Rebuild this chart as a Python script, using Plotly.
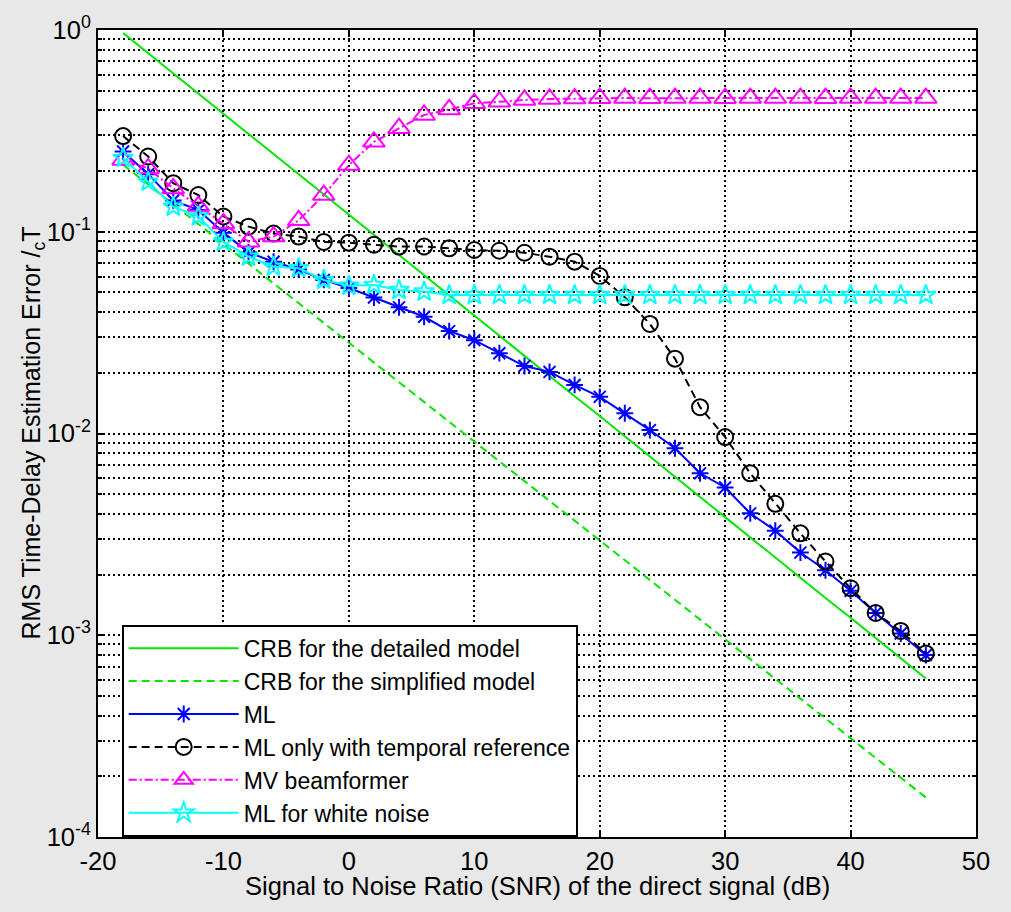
import plotly.graph_objects as go

snr = [-18, -16, -14, -12, -10, -8, -6, -4, -2, 0, 2, 4, 6, 8, 10, 12, 14, 16,
       18, 20, 22, 24, 26, 28, 30, 32, 34, 36, 38, 40, 42, 44, 46]

crb_detailed = [0.966, 0.767, 0.610, 0.484, 0.385, 0.305, 0.243, 0.193, 0.153, 0.122,
                0.0966, 0.0767, 0.0610, 0.0484, 0.0385, 0.0305, 0.0243, 0.0193, 0.0153,
                0.0122, 0.00966, 0.00767, 0.00610, 0.00484, 0.00385, 0.00305, 0.00243,
                0.00193, 0.00153, 0.00122, 0.000966, 0.000767, 0.000610]

crb_simplified = [0.2148, 0.1714, 0.1368, 0.1091, 0.0871, 0.0695, 0.0555, 0.0443, 0.0353,
                  0.0282, 0.0225, 0.01795, 0.01432, 0.01143, 0.00912, 0.00728, 0.00581,
                  0.00463, 0.00370, 0.00295, 0.00236, 0.00188, 0.00150, 0.00120, 0.000955,
                  0.000762, 0.000608, 0.000485, 0.000387, 0.000309, 0.000247, 0.000197,
                  0.000157]

ml = [0.25, 0.193, 0.143, 0.128, 0.099, 0.079, 0.071, 0.065, 0.0577, 0.0526, 0.0472,
      0.0422, 0.0379, 0.0322, 0.029, 0.025, 0.0216, 0.0202, 0.0174, 0.0152, 0.0126,
      0.0104, 0.00845, 0.00635, 0.0054, 0.00402, 0.0033, 0.00257, 0.0021, 0.00166,
      0.00129, 0.00102, 0.000798]

ml_temporal = [0.298, 0.236, 0.174, 0.152, 0.119, 0.106, 0.098, 0.0946, 0.089, 0.0883,
               0.0862, 0.0844, 0.0845, 0.0828, 0.0812, 0.0805, 0.0787, 0.0752, 0.0711,
               0.0604, 0.0473, 0.0349, 0.0235, 0.0135, 0.0096, 0.00635, 0.00448, 0.0032,
               0.00232, 0.00171, 0.00129, 0.00105, 0.000813]

mv_beamformer = [0.227, 0.206, 0.164, 0.134, 0.110, 0.0893, 0.0946, 0.114, 0.152, 0.214,
                 0.279, 0.326, 0.379, 0.404, 0.433, 0.441, 0.450, 0.455, 0.457, 0.459,
                 0.460, 0.459, 0.460, 0.460, 0.459, 0.460, 0.460, 0.460, 0.459, 0.460,
                 0.460, 0.460, 0.460]

ml_white = [0.232, 0.177, 0.133, 0.119, 0.089, 0.0752, 0.0671, 0.0659, 0.0577, 0.0540,
            0.0545, 0.0514, 0.0505, 0.0486, 0.0486, 0.0486, 0.0486, 0.0486, 0.0486,
            0.0486, 0.0486, 0.0486, 0.0486, 0.0486, 0.0486, 0.0486, 0.0486, 0.0486,
            0.0486, 0.0486, 0.0486, 0.0486, 0.0486]

x_ticks = [-20, -10, 0, 10, 20, 30, 40, 50]
x_tick_text = ["-20", "-10", "0", "10", "20", "30", "40", "50"]
y_ticks = [1e-4, 1e-3, 1e-2, 1e-1, 1e0]
y_tick_text = ["10<sup>-4</sup>", "10<sup>-3</sup>", "10<sup>-2</sup>",
               "10<sup>-1</sup>", "10<sup>0</sup>"]

FONT = "Liberation Sans, Arial, sans-serif"
GREEN = "#00e600"
BG = "#e8e8e8"

fig = go.Figure()
fig.add_trace(go.Scatter(x=snr, y=crb_detailed, mode="lines", name="CRB for the detailed model",
                         line=dict(color=GREEN, width=2)))
fig.add_trace(go.Scatter(x=snr, y=crb_simplified, mode="lines", name="CRB for the simplified model",
                         line=dict(color=GREEN, width=2, dash="8px,5px")))
fig.add_trace(go.Scatter(x=snr, y=ml, mode="lines+markers", name="ML",
                         line=dict(color="#0000ff", width=2),
                         marker=dict(symbol="asterisk-open", size=14,
                                     line=dict(color="#0000ff", width=2))))
fig.add_trace(go.Scatter(x=snr, y=ml_temporal, mode="lines+markers",
                         name="ML only with temporal reference",
                         line=dict(color="black", width=2, dash="8px,5px"),
                         marker=dict(symbol="circle-open", size=16,
                                     line=dict(color="black", width=2))))
fig.add_trace(go.Scatter(x=snr, y=mv_beamformer, mode="lines+markers", name="MV beamformer",
                         line=dict(color="#ff00ff", width=2, dash="8px,3px,2px,3px"),
                         marker=dict(symbol="triangle-up-open", size=19,
                                     line=dict(color="#ff00ff", width=2))))
fig.add_trace(go.Scatter(x=snr, y=ml_white, mode="lines+markers", name="ML for white noise",
                         line=dict(color="#00ffff", width=2),
                         marker=dict(symbol="star-open", size=15,
                                     line=dict(color="#00ffff", width=2))))

grid_style = dict(showgrid=True, gridcolor="black", gridwidth=2, griddash="2px,3px")

fig.update_layout(
    width=1011, height=912,
    margin=dict(l=98, r=35, t=30, b=75),
    paper_bgcolor=BG,
    plot_bgcolor="white",
    font=dict(family=FONT, size=25, color="black"),
    showlegend=True,
    legend=dict(x=0.027, y=0.263, xanchor="left", yanchor="top",
                bgcolor="white", bordercolor="black", borderwidth=2,
                font=dict(family=FONT, size=23, color="black"),
                itemwidth=110, tracegroupgap=0),
    xaxis=dict(range=[-20, 50], tickvals=x_ticks, ticktext=x_tick_text,
               ticks="inside", ticklen=7, tickcolor="black", tickwidth=1.5,
               showline=True, linecolor="black", linewidth=2, mirror="allticks",
               zeroline=False,
               tickfont=dict(family=FONT, size=25.5),
               **grid_style),
    yaxis=dict(type="log", range=[-4, 0], tickvals=y_ticks, ticktext=y_tick_text,
               ticks="inside", ticklen=7, tickcolor="black", tickwidth=1.5,
               showline=True, linecolor="black", linewidth=2, mirror="allticks",
               zeroline=False,
               minor=dict(dtick="D1", ticks="inside", ticklen=4, tickcolor="black",
                          showgrid=True, gridcolor="black", gridwidth=2,
                          griddash="2px,3px"),
               tickfont=dict(family=FONT, size=25.5),
               **grid_style),
    annotations=[
        dict(text="Signal to Noise Ratio (SNR) of the direct signal (dB)",
             xref="paper", yref="paper", x=0.5, y=0, yshift=-49,
             xanchor="center", yanchor="middle", showarrow=False,
             font=dict(family=FONT, size=25.5, color="black")),
        dict(text="RMS Time-Delay Estimation Error /<sub>c</sub>T",
             xref="paper", yref="paper", x=0, y=0.5, xshift=-66, textangle=-90,
             xanchor="center", yanchor="middle", showarrow=False,
             font=dict(family=FONT, size=25, color="black")),
    ],
)

fig.write_html(
    "out.html",
    config={"displayModeBar": False},
    post_script=("document.body.style.margin='0';"
                 "document.body.style.padding='0';"
                 "document.body.style.background='" + BG + "';"
                 "document.documentElement.style.background='" + BG + "';"),
)
